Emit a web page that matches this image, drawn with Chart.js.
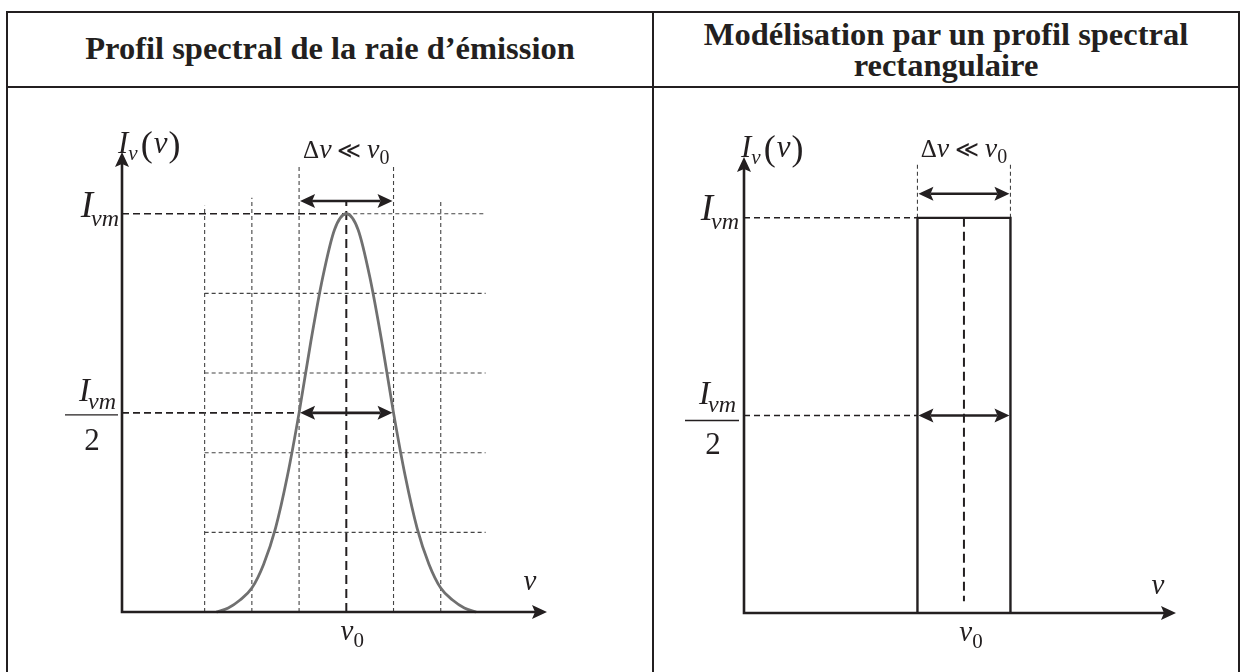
<!DOCTYPE html>
<html lang="fr">
<head>
<meta charset="utf-8">
<title>Profil spectral de la raie d'émission</title>
<script src="https://cdn.jsdelivr.net/npm/chart.js@4.4.1/dist/chart.umd.min.js"></script>
<style>
  html, body { margin: 0; padding: 0; background: #fff; }
  body { position: relative; width: 1242px; height: 672px; overflow: hidden; }
  .trait { position: absolute; background: #231f20; }
  .titre { position: absolute; display: flex; align-items: center; justify-content: center; text-align: center;
           font-family: "Liberation Serif", "Times New Roman", serif; font-weight: bold; font-size: 32.5px;
           line-height: 31px; color: #231f20; }
  canvas { position: absolute; }
</style>
</head>
<body>
<div class="trait" style="left:6px; top:11px; width:1234px; height:2px"></div>
<div class="trait" style="left:6px; top:86px; width:1234px; height:2px"></div>
<div class="trait" style="left:6px; top:11px; width:2px; height:661px"></div>
<div class="trait" style="left:652px; top:11px; width:2px; height:661px"></div>
<div class="trait" style="left:1238px; top:11px; width:2px; height:661px"></div>
<div class="titre" style="left:8px; top:13px; width:644px; height:70px">Profil spectral de la raie d’émission</div>
<div class="titre" style="left:654px; top:13px; width:584px; height:73px">Modélisation par un profil spectral<br>rectangulaire</div>
<canvas id="profil" width="642" height="583" style="left:9px; top:89px"></canvas>
<canvas id="modele" width="583" height="583" style="left:655px; top:89px"></canvas>
<script>
// abscisse : nu - nu0 en carreaux de la grille, ordonnée : I / I_vm
const nuProfil = [-2.75, -2.5, -2.25, -2, -1.75, -1.5, -1.25, -1, -0.75, -0.5, -0.25, 0,
                  0.25, 0.5, 0.75, 1, 1.25, 1.5, 1.75, 2, 2.25, 2.5, 2.75];
const intensiteProfil = [0, 0.01, 0.03, 0.06, 0.12, 0.21, 0.34, 0.5, 0.68, 0.84, 0.96, 1,
                         0.96, 0.84, 0.68, 0.5, 0.34, 0.21, 0.12, 0.06, 0.03, 0.01, 0];
const nuRectangle = [-1, -1, 1, 1];
const intensiteRectangle = [0, 1, 1, 0];
const niveauxGrille = [0.2, 0.4, 0.6, 0.8];
const colonnesGrille = [-3, -2, -1, 0, 1, 2];
const niveauMax = 1;      // I_vm
const niveauMoitie = 0.5; // I_vm / 2
const largeurRaie = [-1, 1]; // bornes de delta nu

const encre = '#231f20';

function trait(x1, y1, x2, y2, largeur, tirets, couleur) {
  return {
    data: [{x: x1, y: y1}, {x: x2, y: y2}],
    borderColor: couleur || encre,
    borderWidth: largeur,
    borderDash: tirets || [],
    pointRadius: 0,
    tension: 0,
    fill: false,
    clip: false
  };
}

function police(m) {
  return (m.it ? 'italic ' : '') + m.s + 'px "Liberation Serif", "Times New Roman", serif';
}

function ecrire(ctx, morceaux, x, y, align) {
  let total = 0;
  morceaux.forEach(m => { ctx.font = police(m); total += ctx.measureText(m.t).width + (m.k || 0); });
  let cx = align === 'right' ? x - total : align === 'center' ? x - total / 2 : x;
  morceaux.forEach(m => {
    ctx.font = police(m);
    ctx.fillText(m.t, cx, y + (m.dy || 0));
    cx += ctx.measureText(m.t).width + (m.k || 0);
  });
}

function pointe(ctx, x, y, dx, dy) {
  const L = 15, l = 7;
  ctx.beginPath();
  ctx.moveTo(x, y);
  ctx.lineTo(x - dx * L - dy * l, y - dy * L + dx * l);
  ctx.lineTo(x - dx * L * 0.8, y - dy * L * 0.8);
  ctx.lineTo(x - dx * L + dy * l, y - dy * L - dx * l);
  ctx.closePath();
  ctx.fill();
}

// Iv(v), Ivm, Ivm/2, v, v0 et delta v
function textesRepere(o) {
  return [
    {ax: null, ay: 'max', dx: o.lab[0], dy: o.lab[1], align: 'left',
     m: [{t: 'I', s: 31, it: true}, {t: 'ν', s: 21, it: true, dy: 7, k: 3}, {t: '(', s: 36, dy: 3, k: 1},
         {t: 'ν', s: 31, it: true, k: 1}, {t: ')', s: 36, dy: 3}]},
    {ax: null, ay: niveauMax, dx: o.max[0], dy: o.max[1], align: 'right',
     m: [{t: 'I', s: 37, it: true, k: -2}, {t: 'νm', s: 24, it: true, dy: 9}]},
    {ax: null, ay: niveauMoitie, dx: o.num[0], dy: o.num[1], align: 'right',
     m: [{t: 'I', s: 33, it: true, k: -2}, {t: 'νm', s: 24, it: true, dy: 8}]},
    {ax: null, ay: niveauMoitie, dx: o.deux[0], dy: o.deux[1], align: 'center', m: [{t: '2', s: 31}]},
    {ax: 'max', ay: 0, dx: o.nu[0], dy: o.nu[1], align: 'center', m: [{t: 'ν', s: 29, it: true}]},
    {ax: 0, ay: 0, dx: o.nu0[0], dy: o.nu0[1], align: 'center',
     m: [{t: 'ν', s: 29, it: true}, {t: '0', s: 21, dy: 7}]},
    {ax: 0, ay: o.delta[2], dx: o.delta[0], dy: o.delta[1], align: 'center',
     m: [{t: 'Δ', s: 25}, {t: 'ν', s: 28, it: true}, {t: ' ≪ ', s: 23}, {t: 'ν', s: 28, it: true},
         {t: '0', s: 20, dy: 6}]}
  ];
}

const schema = {
  id: 'schema',
  afterDatasetsDraw(chart, args, o) {
    const ctx = chart.ctx, sx = chart.scales.x, sy = chart.scales.y;
    const px = v => sx.getPixelForValue(v === 'max' ? sx.max : v);
    const py = v => sy.getPixelForValue(v === 'max' ? sy.max : v);
    const x0 = px(sx.min), y0 = py(0), xTip = px(sx.max), yTip = py(sy.max);
    ctx.save();
    ctx.strokeStyle = encre;
    ctx.fillStyle = encre;
    ctx.lineWidth = 2.6;
    ctx.beginPath();
    ctx.moveTo(x0, y0 + 1.3);
    ctx.lineTo(x0, yTip + 12);
    ctx.moveTo(x0 - 1.3, y0);
    ctx.lineTo(xTip - 12, y0);
    ctx.stroke();
    pointe(ctx, x0, yTip, 0, -1);
    pointe(ctx, xTip, y0, 1, 0);

    o.fleches.forEach(f => {
      const a = px(largeurRaie[0]) + 1, b = px(largeurRaie[1]) - 1, y = py(f);
      ctx.lineWidth = 2.6;
      ctx.beginPath();
      ctx.moveTo(a + 12, y);
      ctx.lineTo(b - 12, y);
      ctx.stroke();
      pointe(ctx, a, y, -1, 0);
      pointe(ctx, b, y, 1, 0);
    });

    // barre de fraction Ivm / 2
    ctx.lineWidth = 1.4;
    ctx.beginPath();
    ctx.moveTo(x0 + o.barre[0], py(niveauMoitie) + o.barre[2]);
    ctx.lineTo(x0 + o.barre[1], py(niveauMoitie) + o.barre[2]);
    ctx.stroke();

    ctx.textAlign = 'left';
    ctx.textBaseline = 'alphabetic';
    textesRepere(o).forEach(e => {
      const x = (e.ax === null ? x0 : px(e.ax)) + e.dx;
      const y = py(e.ay) + e.dy;
      ecrire(ctx, e.m, x, y, e.align);
    });
    ctx.restore();
  }
};

function options(pad, xMin, xMax, yMax, reglages) {
  return {
    responsive: false,
    animation: false,
    events: [],
    layout: {padding: pad},
    scales: {
      x: {type: 'linear', min: xMin, max: xMax, display: false},
      y: {type: 'linear', min: 0, max: yMax, display: false}
    },
    plugins: {legend: {display: false}, tooltip: {enabled: false}, schema: reglages}
  };
}

// ---- profil gaussien ----
const gris = '#444';
const jeuxProfil = [];
jeuxProfil.push({
  data: nuProfil.map((v, i) => ({x: v, y: intensiteProfil[i]})),
  borderColor: '#707070',
  borderWidth: 2.8,
  cubicInterpolationMode: 'monotone',
  pointRadius: 0,
  fill: false,
  clip: false
});
const hautColonnes = [1.02, 1.04, 1.12, 1.03, 1.12, 1.03];
colonnesGrille.forEach((c, i) => {
  if (c === 0) jeuxProfil.push(trait(c, 0, c, hautColonnes[i], 2, [9, 5], encre));
  else jeuxProfil.push(trait(c, 0, c, hautColonnes[i], 1.1, [4, 3], gris));
});
niveauxGrille.forEach(n => jeuxProfil.push(trait(-3, n, 2.95, n, 1.1, [4, 3], gris)));
jeuxProfil.push(trait(-4.75, niveauMax, 0, niveauMax, 1.6, [7, 4], encre));
jeuxProfil.push(trait(0, niveauMax, 2.95, niveauMax, 1.1, [4, 3], gris));
jeuxProfil.push(trait(-4.75, niveauMoitie, -1, niveauMoitie, 1.6, [7, 4], encre));

new Chart(document.getElementById('profil'), {
  type: 'line',
  data: {datasets: jeuxProfil},
  options: options({left: 113, right: 104, top: 63, bottom: 60}, -4.75, 4.25, 1.155, {
    fleches: [1.032, niveauMoitie],
    barre: [-57, -4, 2],
    lab: [-4, 1], max: [-3, 3], num: [-6, -12], deux: [-30, 37],
    nu: [-17, -22], nu0: [6, 28], delta: [0, -8, 1.12]
  }),
  plugins: [schema]
});

// ---- modèle rectangulaire ----
const jeuxModele = [];
jeuxModele.push({
  data: nuRectangle.map((v, i) => ({x: v, y: intensiteRectangle[i]})),
  borderColor: encre,
  borderWidth: 2.4,
  pointRadius: 0,
  tension: 0,
  fill: false,
  clip: false
});
jeuxModele.push(trait(0, niveauMax, 0, 0.03, 2, [9, 5], encre));
largeurRaie.forEach(b => jeuxModele.push(trait(b, niveauMax, b, 1.139, 1.1, [4, 3], gris)));
jeuxModele.push(trait(-4.73, niveauMax, -1, niveauMax, 1.5, [6, 4], encre));
jeuxModele.push(trait(-4.73, niveauMoitie, -1, niveauMoitie, 1.5, [6, 4], encre));

new Chart(document.getElementById('modele'), {
  type: 'line',
  data: {datasets: jeuxModele},
  options: options({left: 89, right: 62, top: 68, bottom: 59}, -4.73, 4.56, 1.154, {
    fleches: [1.061, niveauMoitie],
    barre: [-59, -5, 5],
    lab: [-3, 0], max: [-5, 2], num: [-8, -11], deux: [-31, 39],
    nu: [-18, -19], nu0: [7, 28], delta: [0, -6, 1.139]
  }),
  plugins: [schema]
});
</script>
</body>
</html>
